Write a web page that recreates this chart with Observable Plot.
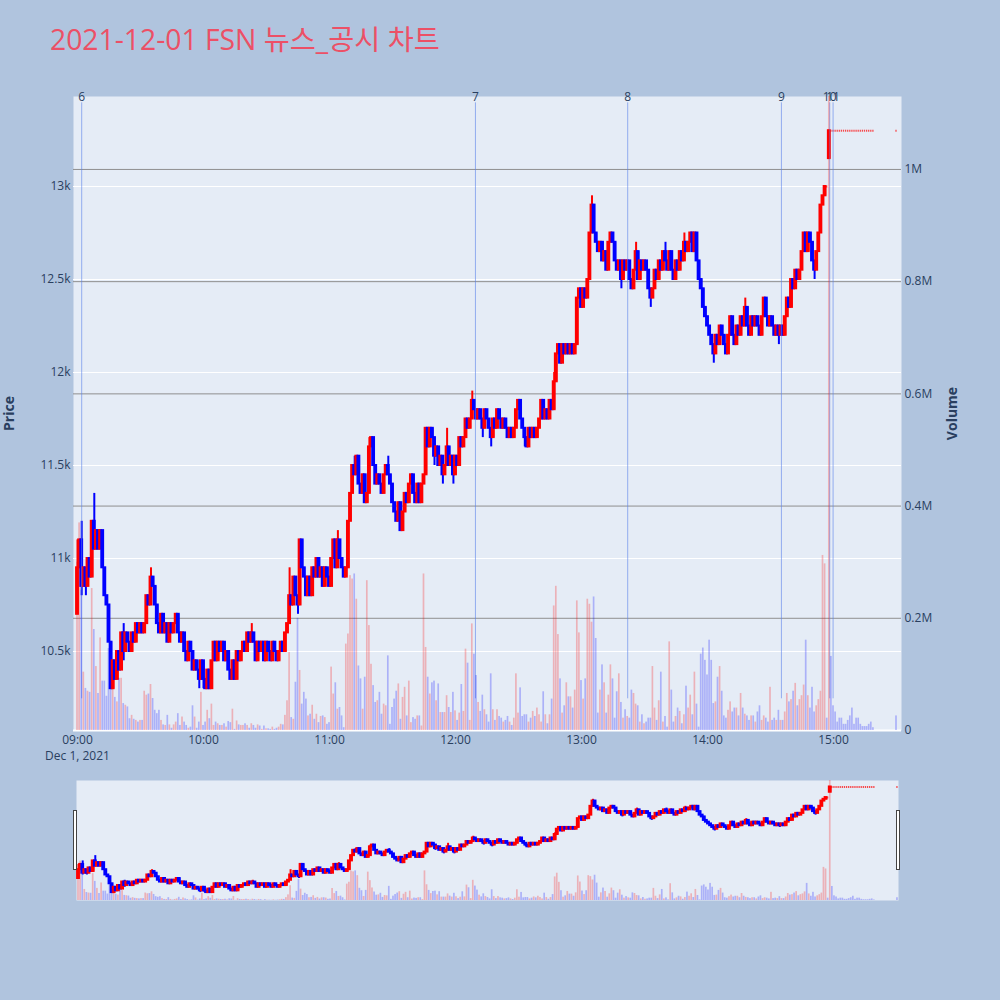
<!DOCTYPE html>
<html><head><meta charset="utf-8">
<script src="https://cdn.jsdelivr.net/npm/d3@7"></script>
<script src="https://cdn.jsdelivr.net/npm/@observablehq/plot@0.6"></script>
<style>
body{margin:0;background:#b0c4de;}
#wrap{position:relative;width:1000px;height:1000px;background:#b0c4de;overflow:hidden;font-family:"Open Sans","Noto Sans CJK KR",sans-serif;}
.layer{position:absolute;left:0;}
.layer svg{background:transparent !important;display:block;}
#title{position:absolute;left:50px;top:25px;font-size:28.3px;line-height:28px;color:#ec5066;white-space:nowrap;}
.handle{position:absolute;width:2px;height:58px;background:#fff;border:1px solid #444;}
</style></head><body>
<div id="wrap"><div id="title">2021-12-01 FSN 뉴스_공시 차트</div></div>
<script>
// ---- data (per-minute candles from 09:00) ----
const closes = [
10950,11100,10850,10950,10850,11000,10900,11200,11050,11150,
11050,11150,10950,10800,10750,10550,10300,10450,10350,10500,
10400,10600,10500,10600,10550,10500,10600,10550,10650,10600,
10650,10600,10650,10800,10750,10900,10850,10750,10650,10600,
10700,10600,10650,10550,10650,10600,10650,10700,10600,10550,
10600,10500,10450,10550,10500,10400,10450,10400,10350,10450,
10350,10300,10400,10300,10450,10550,10450,10550,10500,10550,
10450,10500,10400,10350,10450,10350,10500,10450,10500,10550,
10500,10600,10550,10600,10550,10450,10550,10500,10550,10450,
10550,10500,10450,10550,10500,10450,10500,10550,10500,10600,
10650,10800,10750,10900,10800,10750,11100,10950,10900,10800,
10900,10800,10950,10900,11000,10900,10950,10850,10950,10900,
10850,11000,11100,10950,11100,11000,10950,10900,10950,11200,
11350,11500,11450,11550,11400,11350,11450,11300,11350,11600,
11650,11500,11400,11450,11400,11350,11450,11500,11450,11400,
11300,11250,11200,11300,11150,11250,11350,11300,11400,11450,
11350,11300,11400,11300,11400,11450,11700,11600,11700,11650,
11550,11600,11500,11550,11450,11500,11600,11500,11550,11450,
11550,11500,11650,11600,11650,11750,11700,11750,11850,11800,
11750,11800,11750,11700,11800,11750,11700,11650,11750,11700,
11800,11750,11700,11750,11700,11650,11700,11650,11700,11800,
11850,11750,11700,11650,11600,11700,11650,11700,11650,11700,
11750,11850,11750,11800,11750,11850,11800,11950,12100,12150,
12050,12150,12100,12150,12100,12150,12100,12150,12400,12450,
12350,12450,12400,12500,12750,12900,12750,12700,12650,12700,
12600,12650,12550,12700,12750,12700,12600,12550,12600,12500,
12600,12550,12600,12500,12450,12550,12650,12500,12600,12550,
12600,12550,12450,12400,12450,12550,12500,12600,12550,12650,
12600,12550,12650,12550,12500,12600,12550,12650,12600,12700,
12650,12700,12750,12650,12750,12600,12500,12450,12350,12300,
12250,12200,12150,12100,12200,12150,12250,12200,12150,12100,
12200,12300,12200,12150,12250,12200,12300,12250,12350,12250,
12200,12300,12250,12300,12250,12200,12300,12400,12300,12250,
12300,12250,12200,12250,12200,12250,12200,12300,12400,12350,
12500,12450,12550,12500,12550,12650,12750,12650,12750,12700,
12600,12550,12650,12750,12900,12950,13000,13000,13300,13300,
13300,13300,13300,13300,13300,13300,13300,13300,13300,13300,
13300,13300,13300,13300,13300,13300,13300,13300,13300,13300
];
// volume in thousands of shares, same minutes
const volumesK = [
300,370,250,104,75,70,68,253,180,114,
66,165,88,88,61,146,99,80,59,51,
93,93,48,45,42,21,27,20,18,15,
18,18,70,63,65,82,57,36,30,36,
18,10,9,27,10,4,10,15,30,9,
24,15,9,4,6,44,24,4,15,68,
9,15,36,21,47,9,15,12,9,9,
12,6,16,14,38,2,17,10,9,9,
12,9,4,12,9,4,10,8,2,8,
3,3,2,6,2,4,6,11,10,27,
53,139,23,20,86,200,107,47,68,56,
26,29,45,20,29,14,25,26,23,11,
14,113,65,85,38,41,26,5,154,172,
276,270,279,234,115,92,38,95,267,187,
118,80,50,53,68,29,47,44,133,11,
41,56,70,83,20,59,77,26,88,14,
23,20,26,26,8,279,148,95,65,85,
88,53,83,32,32,32,62,41,32,68,
35,18,31,82,34,145,120,18,190,136,
98,50,34,63,37,28,15,101,37,18,
37,25,22,15,18,25,15,9,22,101,
31,76,25,28,28,15,22,34,25,40,
28,15,69,28,12,28,56,222,257,171,
92,31,44,85,60,60,40,72,231,174,
89,56,92,234,225,193,238,164,31,72,
117,85,31,63,117,92,22,69,101,50,
22,37,25,22,72,66,47,44,15,28,
12,15,22,22,114,40,18,53,104,15,
25,6,158,72,15,25,40,34,12,28,
79,40,63,28,104,47,6,136,147,125,
99,161,125,48,51,95,114,70,26,22,
36,51,33,40,40,26,66,40,29,26,
18,26,26,15,33,44,18,26,22,15,
77,18,22,18,36,18,18,33,66,51,
55,70,84,44,55,62,81,161,62,40,
77,33,44,55,70,312,297,22,1500,132,
44,33,15,22,22,11,11,18,26,40,
11,22,22,11,7,7,7,11,15,5
];
const firstOpen = 10700;
const gapOpenMinute = 358, gapOpen = 13150;
const highWicks = [[0,11100],[2,11200],[8,11350],[14,10800],[22,10650],[35,10950],[36,10900],[72,10450],[83,10650],[84,10600],[101,10950],[124,11150],[132,11550],[139,11650],[148,11550],[167,11700],[176,11700],[188,11900],[227,12000],[245,12950],[266,12700],[280,12700],[289,12750],[292,12750],[318,12400]];
const lowWicks = [[2,10800],[4,10800],[22,10450],[58,10300],[60,10300],[105,10700],[170,11500],[174,11400],[179,11400],[193,11650],[197,11600],[213,11600],[259,12450],[273,12350],[303,12050],[334,12150],[351,12500]];
const lateMinute = 390, lateClose = 13300, lateVolumeK = 26;
// news markers (minutes after 09:00) and labels
const newsMinutes = [2, 189.5, 262, 335.2, 358.2, 359.8];
const newsLabels = ["6", "7", "8", "9", "10", "11"];
// axis ticks
const priceTicks = [10500, 11000, 11500, 12000, 12500, 13000];
const volumeTicks = [200000, 400000, 600000, 800000, 1000000];
const hourTicks = [9, 10, 11, 12, 13, 14, 15];

// ---- build table ----
const T0 = Date.UTC(2021, 11, 1, 9, 0);
const MIN = 60000;
const minutes = closes.map((_, i) => i).concat([lateMinute]);
const allCloses = closes.concat([lateClose]);
const allVols = volumesK.concat([lateVolumeK]);
const hi = new Map(highWicks), lo = new Map(lowWicks);
let prevDir = 1;
const candles = minutes.map((m, i) => {
  const c = allCloses[i];
  const o = i === 0 ? firstOpen : (m === gapOpenMinute ? gapOpen : allCloses[i - 1]);
  const h = Math.max(o, c, hi.has(m) ? hi.get(m) : -Infinity);
  const l = Math.min(o, c, lo.has(m) ? lo.get(m) : Infinity);
  const dir = c > o ? 1 : c < o ? -1 : prevDir;
  prevDir = dir;
  return {t: new Date(T0 + m * MIN), t1: new Date(T0 + (m - 0.44) * MIN), t2: new Date(T0 + (m + 0.44) * MIN),
          f1: new Date(T0 + (m - 0.3) * MIN), f2: new Date(T0 + (m + 0.3) * MIN),
          b1: new Date(T0 + (m - 0.4) * MIN), b2: new Date(T0 + (m + 0.4) * MIN),
          o, c, h, l, up: dir > 0, flat: o === c, vol: allVols[i] * 1000, volUp: c > o};
});
const bodies = candles.filter(d => !d.flat);
const flats = candles.filter(d => d.flat);
const news = newsMinutes.map((m, i) => ({t: new Date(T0 + m * MIN), label: newsLabels[i]}));
const tickDates = hourTicks.map(h => new Date(Date.UTC(2021, 11, 1, h, 0)));

const RED = "#ff0000", BLUE = "#0000ff";
const P0 = 10075.3, P1 = 13483.9;
const V1 = 1130000;
const mainX = [new Date(T0 - 1.905 * MIN), new Date(T0 + 392.38 * MIN)];
const sliderX = [new Date(T0 - 0.95 * MIN), new Date(T0 + 390.5 * MIN)];

const wrap = document.getElementById("wrap");
const FONT = '"Open Sans", "Noto Sans CJK KR", sans-serif';
function addLayer(top, opts) {
  const svg = Plot.plot(Object.assign({
    width: 1000,
    style: {background: "transparent", fontFamily: FONT, fontSize: "12px", color: "#2a3f5f", overflow: "visible"}
  }, opts));
  const d = document.createElement("div");
  d.className = "layer";
  d.style.top = top + "px";
  d.appendChild(svg);
  wrap.appendChild(d);
}
const MAIN = {height: 780, marginTop: 96, marginBottom: 50, marginLeft: 73, marginRight: 99};
const SLIDE = {height: 120, marginTop: 0, marginBottom: 0, marginLeft: 76, marginRight: 102};

function candleMarks() {
  return [
    Plot.ruleX(candles, {x: "t", y1: "l", y2: "h", stroke: d => d.up ? RED : BLUE, strokeWidth: 2}),
    Plot.rect(bodies, {x1: "t1", x2: "t2", y1: "o", y2: "c", fill: d => d.up ? RED : BLUE, stroke: d => d.up ? RED : BLUE, strokeWidth: 2}),
    Plot.ruleY(flats, {x1: "f1", x2: "f2", y: "c", stroke: d => d.up ? RED : BLUE, strokeWidth: 2, strokeOpacity: 0.7})
  ];
}
function volumeMarks() {
  return [
    Plot.rectY(candles, {x1: "b1", x2: "b2", y: "vol", fill: d => d.volUp ? RED : BLUE, fillOpacity: 0.25})
  ];
}
const fmtVol = v => v === 0 ? "0" : `${+(v / 1e6).toFixed(1)}M`;

// Layer 1: background, price grid, left & bottom axes
addLayer(0, Object.assign({}, MAIN, {
  x: {type: "utc", domain: mainX},
  y: {domain: [P0, P1]},
  marks: [
    Plot.frame({fill: "#e5ecf6", stroke: "none"}),
    Plot.gridY(priceTicks, {stroke: "white", strokeOpacity: 1, strokeWidth: 1}),
    Plot.axisY(priceTicks, {anchor: "left", tickSize: 0, tickPadding: 3, tickFormat: d3.format("~s"), label: null}),
    Plot.axisX(tickDates, {anchor: "bottom", tickSize: 0, tickPadding: 5, tickFormat: d3.utcFormat("%H:%M"), label: null}),
    Plot.text(["Dec 1, 2021"], {x: () => tickDates[0], frameAnchor: "bottom", dy: 21, lineAnchor: "top", textAnchor: "middle"}),
    Plot.text(["Price"], {frameAnchor: "left", dx: -64, rotate: -90, textAnchor: "middle", lineAnchor: "middle", fontSize: 14, fontWeight: "bold"})
  ]
}));
// Layer 2: volume grid, zero line, right axis
addLayer(0, Object.assign({}, MAIN, {
  x: {type: "utc", domain: mainX, axis: null},
  y: {domain: [0, V1], clamp: true},
  marks: [
    Plot.gridY(volumeTicks, {stroke: "#8f8f8f", strokeOpacity: 1, strokeWidth: 1}),
    Plot.ruleY([0], {stroke: "white", strokeWidth: 2}),
    Plot.axisY([0].concat(volumeTicks), {anchor: "right", tickSize: 0, tickPadding: 3, tickFormat: fmtVol, label: null}),
    Plot.text(["Volume"], {frameAnchor: "right", dx: 51, rotate: -90, textAnchor: "middle", lineAnchor: "middle", fontSize: 14, fontWeight: "bold"})
  ]
}));
// Layer 3: candles and news markers
addLayer(0, Object.assign({}, MAIN, {
  x: {type: "utc", domain: mainX, axis: null},
  y: {domain: [P0, P1], axis: null},
  marks: [
    ...candleMarks(),
    Plot.ruleX(news, {x: "t", y1: P0 + 0.05 * (P1 - P0), y2: P0 + 0.99 * (P1 - P0), stroke: "rgb(90,130,235)", strokeOpacity: 0.6, strokeWidth: 1}),
    Plot.text(news, {x: "t", text: "label", frameAnchor: "top", lineAnchor: "middle", dy: 0.5, fill: "#2a3f5f"})
  ]
}));
// Layer 4: volume bars
addLayer(0, Object.assign({}, MAIN, {
  x: {type: "utc", domain: mainX, axis: null},
  y: {domain: [0, V1], clamp: true, axis: null},
  marks: volumeMarks()
}));
// Range slider
addLayer(780, Object.assign({}, SLIDE, {
  x: {type: "utc", domain: sliderX, axis: null},
  y: {domain: [P0, P1], axis: null},
  marks: [Plot.frame({fill: "#e5ecf6", stroke: "none"}), ...candleMarks()]
}));
addLayer(780, Object.assign({}, SLIDE, {
  x: {type: "utc", domain: sliderX, axis: null},
  y: {domain: [0, V1], clamp: true, axis: null},
  marks: volumeMarks()
}));
// slider handles
[73, 896].forEach(x => {
  const h = document.createElement("div");
  h.className = "handle";
  h.style.left = x + "px";
  h.style.top = "810px";
  wrap.appendChild(h);
});
</script>
</body></html>
